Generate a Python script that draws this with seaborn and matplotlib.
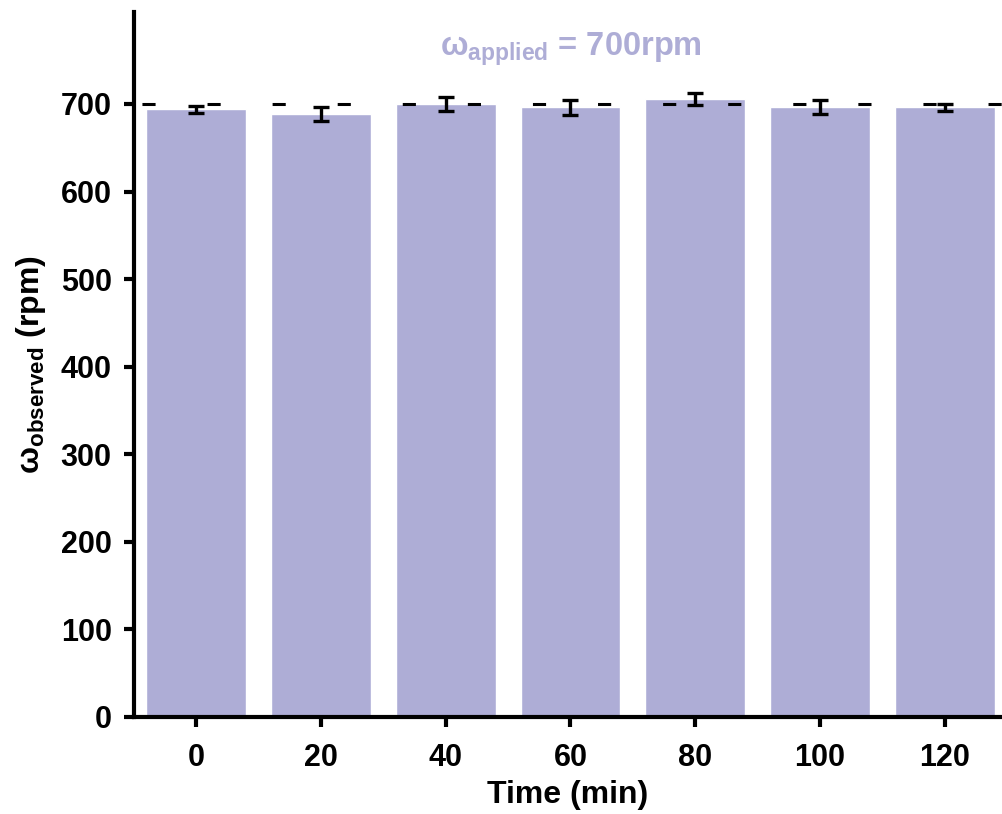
import pandas as pd
import matplotlib.pyplot as plt
import seaborn as sns

# values
time_min = ["0", "20", "40", "60", "80", "100", "120"]
omega_mean = [694, 688, 700, 696, 706, 696, 696]
omega_err = [4, 8, 8, 9, 7, 8, 4]
applied_rpm = 700

bar_color = "#aeadd6"


def main():
    sns.set_theme(style="ticks")
    plt.rcParams["font.family"] = ["Liberation Sans", "DejaVu Sans"]
    plt.rcParams["font.weight"] = "bold"
    plt.rcParams["mathtext.fontset"] = "custom"
    plt.rcParams["mathtext.bf"] = "Liberation Sans:bold"
    plt.rcParams["mathtext.rm"] = "Liberation Sans:bold"
    plt.rcParams["mathtext.default"] = "bf"
    for key in ["text.color", "axes.labelcolor", "xtick.color", "ytick.color"]:
        plt.rcParams[key] = "black"

    df = pd.DataFrame({"time": time_min, "omega": omega_mean, "err": omega_err})

    fig = plt.figure(figsize=(10.02, 8.14), dpi=100)
    ax = fig.add_axes([0.1337, 0.1192, 0.8663, 0.8661])

    sns.barplot(data=df, x="time", y="omega", order=time_min, color=bar_color,
                saturation=1, width=0.8, errorbar=None, ax=ax, zorder=2)

    ax.errorbar(range(len(time_min)), df["omega"], yerr=df["err"], fmt="none",
                ecolor="black", elinewidth=2.4, capsize=6, capthick=2.4, zorder=4)

    # applied speed reference line
    ax.axhline(applied_rpm, color="black", lw=2.2,
               linestyle=(18.7, (4.3, 17.0)), zorder=3)

    ax.text(3, 762, r"ω$_{applied}$ = 700rpm", color=bar_color, fontsize=23.5,
            fontweight="bold", ha="center", va="center")

    ax.set_xlim(-0.5, 6.46)
    ax.set_ylim(0, 805)
    ax.set_yticks(range(0, 701, 100))

    ax.set_xlabel("Time (min)", fontsize=23, fontweight="bold", labelpad=5)
    ax.set_ylabel(r"ω$_{observed}$ (rpm)", fontsize=23, fontweight="bold", labelpad=9)

    ax.tick_params(axis="both", labelsize=22, width=3, length=7, direction="out",
                   pad=9)
    ax.tick_params(axis="x", pad=12)
    for lab in ax.get_xticklabels() + ax.get_yticklabels():
        lab.set_fontweight("bold")

    sns.despine(ax=ax)
    for side in ["left", "bottom"]:
        ax.spines[side].set_linewidth(3)
        ax.spines[side].set_color("black")

    fig.savefig("out.png", dpi=100)


if __name__ == "__main__":
    main()
